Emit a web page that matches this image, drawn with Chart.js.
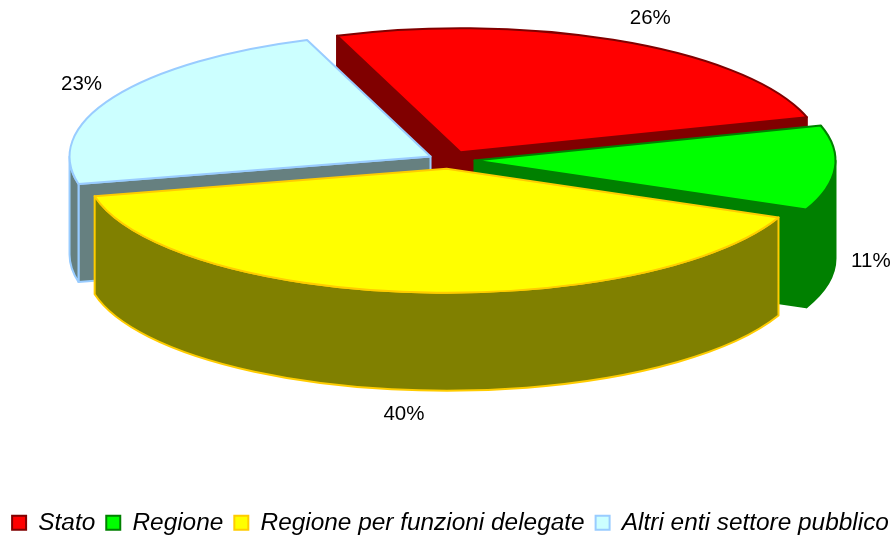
<!DOCTYPE html>
<html><head><meta charset="utf-8">
<style>html,body{margin:0;padding:0;background:#fff}#w{width:895px;height:537px}</style>
<script src="https://cdn.jsdelivr.net/npm/chart.js@4"></script>
</head><body><div id="w"><canvas id="c"></canvas></div>
<script>
const categories = ['Stato','Regione','Regione per funzioni delegate','Altri enti settore pubblico'];
const shares = [26,11,40,23];
const topColors = ['#FF0000','#00FF00','#FFFF00','#CCFFFF'];
const sideColors = ['#800000','#008000','#808000','#668080'];
const edgeColors = ['#800000','#008000','#FFCC00','#99CCFF'];
const explode = [17,17,17,14];

const pie3d = {
  id:'pie3d',
  beforeDatasetsDraw(chart, args, o){
    const ctx = chart.ctx, arcs = chart.getDatasetMeta(0).data;
    const K = arcs[0].outerRadius, fx = o.rx/K, fy = o.ry/K;
    const geo = arcs.map((a,i)=>{
      const m=(a.startAngle+a.endAngle)/2, off=a.options.offset;
      return {a0:a.startAngle,a1:a.endAngle,m,ox:o.cx+fx*off*Math.cos(m),oy:o.cy+fy*off*Math.sin(m),i};
    });
    const paint=(path,fill,stroke)=>{ctx.beginPath();path();ctx.closePath();ctx.fillStyle=fill;ctx.fill();
      ctx.strokeStyle=stroke;ctx.lineWidth=o.edge;ctx.lineJoin='round';ctx.stroke();};
    const radial=g=>{ // faces of the wedge that look toward the viewer
      [[g.a0,Math.cos(g.a0)<0],[g.a1,Math.cos(g.a1)>0]].forEach(([t,vis])=>{
        if(!vis) return;
        const ex=g.ox+o.rx*Math.cos(t), ey=g.oy+o.ry*Math.sin(t);
        paint(()=>{ctx.moveTo(g.ox,g.oy);ctx.lineTo(ex,ey);ctx.lineTo(ex,ey+o.depth);ctx.lineTo(g.ox,g.oy+o.depth);},
          sideColors[g.i],edgeColors[g.i]);
      });
    };
    const outer=g=>{
      const s=Math.max(g.a0,0), e=Math.min(g.a1,Math.PI);
      if(e<=s) return;
      paint(()=>{ctx.ellipse(g.ox,g.oy,o.rx,o.ry,0,s,e);ctx.ellipse(g.ox,g.oy+o.depth,o.rx,o.ry,0,e,s,true);},
        sideColors[g.i],edgeColors[g.i]);
    };
    o.order.forEach(i=>{
      const g=geo[i];
      radial(g); outer(g);
      paint(()=>{ctx.moveTo(g.ox,g.oy);ctx.ellipse(g.ox,g.oy,o.rx,o.ry,0,g.a0,g.a1);},topColors[i],edgeColors[i]);
    });
    ctx.fillStyle='#000';ctx.font=o.labelFont;ctx.textAlign='center';ctx.textBaseline='middle';
    geo.forEach(g=>{
      const [dx,dy]=o.labelShift[g.i];
      ctx.fillText(shares[g.i]+'%',g.ox+o.rx*Math.cos(g.m)+dx,g.oy+o.ry*Math.sin(g.m)+dy);
    });
    return false;
  }
};

new Chart(document.getElementById('c'),{
  type:'pie',
  data:{labels:categories,datasets:[{data:shares,backgroundColor:topColors,borderColor:edgeColors,borderWidth:2,offset:explode}]},
  plugins:[pie3d],
  options:{
    responsive:true,maintainAspectRatio:false,animation:false,rotation:-20,
    layout:{padding:{left:0,right:-6,top:0,bottom:-8}},
    plugins:{
      tooltip:{enabled:false},
      legend:{position:'bottom',labels:{boxWidth:14,boxHeight:14,padding:11,color:'#000',
        font:{family:'"Liberation Sans"',size:24.4,style:'italic'}}},
      pie3d:{cx:449,cy:160,rx:361,ry:124,depth:98,edge:2,order:[0,3,1,2],
        labelFont:'20.5px "Liberation Sans"',
        labelShift:[[27,-23],[36,93],[-10,122],[-32,-13]]}
    }
  }
});
</script></body></html>
